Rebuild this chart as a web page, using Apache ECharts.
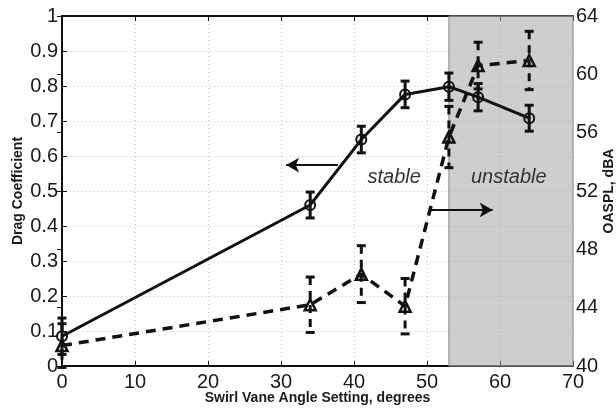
<!DOCTYPE html>
<html>
<head>
<meta charset="utf-8">
<script src="https://cdn.jsdelivr.net/npm/echarts@6/dist/echarts.min.js"></script>
<style>
html,body{margin:0;padding:0;background:#fff;}
#chart{width:616px;height:412px;}
</style>
</head>
<body>
<div id="chart"></div>
<script>
// ---- data ----
const angles = [0, 34, 41, 47, 53, 57, 64];
const dragCoef = [0.085, 0.46, 0.647, 0.776, 0.798, 0.768, 0.708];
const dragErr = [0.052, 0.037, 0.038, 0.038, 0.039, 0.039, 0.037];
const oaspl = [41.4, 44.2, 46.3, 44.1, 55.7, 60.6, 60.95];
const oasplErr = [1.5, 1.9, 1.95, 1.9, 2.1, 1.6, 2.0];
const xTicks = [0, 10, 20, 30, 40, 50, 60, 70];
const unstableStart = 53;
const stableArrow = [[37.8, 0.574], [30.7, 0.574]];
const unstableArrow = [[50.3, 0.446], [59.0, 0.446]];
const regionLabels = [{text: 'stable', x: 45.5, y: 0.54}, {text: 'unstable', x: 61.2, y: 0.54}];

const FONT = 'Liberation Sans, Arial, Helvetica, sans-serif';
const chart = echarts.init(document.getElementById('chart'), null, {renderer: 'canvas'});

function errRender(dashed) {
  return function (params, api) {
    const x = api.value(0), y = api.value(1), e = api.value(2);
    const t = api.coord([x, y + e]);
    const b = api.coord([x, y - e]);
    const w = 4.5;
    const st = {stroke: '#111', lineWidth: 3};
    const stl = dashed ? Object.assign({lineDash: [8, 6]}, st) : st;
    return {
      type: 'group',
      children: [
        {type: 'line', shape: {x1: t[0], y1: t[1], x2: b[0], y2: b[1]}, style: stl},
        {type: 'line', shape: {x1: t[0] - w, y1: t[1], x2: t[0] + w, y2: t[1]}, style: st},
        {type: 'line', shape: {x1: b[0] - w, y1: b[1], x2: b[0] + w, y2: b[1]}, style: st}
      ]
    };
  };
}

const axisLabelStyle = {color: '#1a1a1a', fontSize: 20, fontFamily: FONT};
const nameStyle = {color: '#1a1a1a', fontSize: 14, fontWeight: 'bold', fontFamily: FONT};

const option = {
  animation: false,
  backgroundColor: '#fff',
  grid: {left: 62, right: 43, top: 16, bottom: 46, outerBoundsMode: 'none', containLabel: false},
  xAxis: [{
    type: 'value', min: 0, max: 70, interval: 10,
    name: 'Swirl Vane Angle Setting, degrees', nameLocation: 'middle', nameGap: 25, nameMoveOverlap: false,
    nameTextStyle: nameStyle,
    axisLine: {show: true, lineStyle: {color: '#111', width: 2}},
    axisTick: {show: true, inside: true, length: 5, lineStyle: {color: '#111', width: 1}},
    axisLabel: Object.assign({margin: 6, formatter: v => xTicks.includes(v) ? String(v) : ''}, axisLabelStyle),
    splitLine: {show: true, lineStyle: {color: '#c4c4c4', type: [1, 3], width: 1}}
  }, {
    type: 'value', min: 0, max: 70, interval: 10, position: 'top',
    axisLine: {show: true, lineStyle: {color: '#111', width: 2}},
    axisTick: {show: true, inside: true, length: 5, lineStyle: {color: '#111', width: 1}},
    axisLabel: {show: false}, splitLine: {show: false}
  }],
  yAxis: [{
    type: 'value', min: 0, max: 1, interval: 0.1, position: 'left',
    name: 'Drag Coefficient', nameLocation: 'middle', nameGap: 37, nameRotate: 90, nameMoveOverlap: false,
    nameTextStyle: nameStyle,
    axisLine: {show: true, lineStyle: {color: '#111', width: 2}},
    axisTick: {show: true, inside: true, length: 5, lineStyle: {color: '#111', width: 1}},
    axisLabel: Object.assign({margin: 4, formatter: v => String(Math.round(v * 10) / 10)}, axisLabelStyle),
    splitLine: {show: true, lineStyle: {color: '#c4c4c4', type: [1, 3], width: 1}}
  }, {
    type: 'value', min: 40, max: 64, interval: 4, position: 'right',
    name: 'OASPL, dBA', nameLocation: 'middle', nameGap: 29, nameRotate: 90, nameMoveOverlap: false,
    nameTextStyle: nameStyle,
    axisLine: {show: true, lineStyle: {color: '#111', width: 2}},
    axisTick: {show: true, inside: true, length: 5, lineStyle: {color: '#111', width: 1}},
    axisLabel: Object.assign({margin: 3}, axisLabelStyle),
    splitLine: {show: false}
  }],
  series: [
    {
      name: 'region', type: 'line', data: [], yAxisIndex: 0, silent: true,
      markArea: {
        silent: true,
        itemStyle: {color: 'rgba(165,165,165,0.55)', borderColor: '#8a8a8a', borderWidth: 1},
        data: [[{xAxis: unstableStart}, {xAxis: 70}]]
      },
      markLine: {
        silent: true, symbol: ['none', 'arrow'], symbolSize: [11, 13],
        label: {show: false},
        lineStyle: {color: '#111', width: 2, type: 'solid'},
        data: [
          [{coord: stableArrow[0]}, {coord: stableArrow[1]}],
          [{coord: unstableArrow[0]}, {coord: unstableArrow[1]}]
        ]
      },
      markPoint: {
        silent: true, symbol: 'circle', symbolSize: 0,
        label: {show: true, position: 'inside', color: '#333', fontSize: 20, fontStyle: 'italic', fontFamily: FONT,
          formatter: p => p.name},
        data: regionLabels.map(r => ({name: r.text, coord: [r.x, r.y]}))
      }
    },
    {
      name: 'Drag error', type: 'custom', yAxisIndex: 0, z: 3,
      renderItem: errRender(false),
      data: angles.map((a, i) => [a, dragCoef[i], dragErr[i]])
    },
    {
      name: 'OASPL error', type: 'custom', yAxisIndex: 1, z: 3,
      renderItem: errRender(true),
      data: angles.map((a, i) => [a, oaspl[i], oasplErr[i]])
    },
    {
      name: 'Drag Coefficient', type: 'line', yAxisIndex: 0, z: 4,
      data: angles.map((a, i) => [a, dragCoef[i]]),
      lineStyle: {color: '#111', width: 3},
      symbol: 'circle', symbolSize: 10,
      itemStyle: {color: 'rgba(0,0,0,0)', borderColor: '#111', borderWidth: 2}
    },
    {
      name: 'OASPL', type: 'line', yAxisIndex: 1, z: 4,
      data: angles.map((a, i) => [a, oaspl[i]]),
      lineStyle: {color: '#111', width: 3.5, type: [10, 7]},
      symbol: 'triangle', symbolSize: 11,
      itemStyle: {color: 'rgba(0,0,0,0)', borderColor: '#111', borderWidth: 2.5}
    }
  ]
};
chart.setOption(option);
</script>
</body>
</html>
